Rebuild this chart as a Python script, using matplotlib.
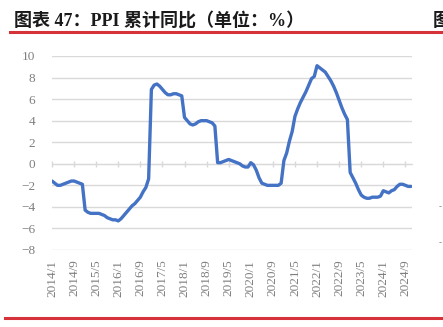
import matplotlib
matplotlib.use("Agg")
import matplotlib.pyplot as plt
from matplotlib.lines import Line2D

title = "图表 47：PPI 累计同比（单位：%）"

ppi_2014 = [-1.6, -1.8, -2.0, -2.0, -1.9, -1.8, -1.7, -1.6, -1.6, -1.7, -1.8, -1.9]
ppi_2015 = [-4.3, -4.5, -4.6, -4.6, -4.6, -4.6, -4.7, -4.8, -5.0, -5.1, -5.2, -5.2]
ppi_2016 = [-5.3, -5.1, -4.8, -4.5, -4.2, -3.9, -3.7, -3.4, -3.1, -2.6, -2.2, -1.4]
ppi_2017 = [6.9, 7.3, 7.4, 7.2, 6.9, 6.6, 6.4, 6.4, 6.5, 6.5, 6.4, 6.3]
ppi_2018 = [4.3, 4.0, 3.7, 3.6, 3.7, 3.9, 4.0, 4.0, 4.0, 3.9, 3.8, 3.5]
ppi_2019 = [0.1, 0.1, 0.2, 0.3, 0.4, 0.3, 0.2, 0.1, 0.0, -0.2, -0.3, -0.3]
ppi_2020 = [0.1, -0.1, -0.6, -1.3, -1.8, -1.9, -2.0, -2.0, -2.0, -2.0, -2.0, -1.8]
ppi_2021 = [0.3, 1.0, 2.1, 3.0, 4.4, 5.1, 5.7, 6.2, 6.7, 7.3, 7.9, 8.1]
ppi_2022 = [9.1, 8.9, 8.7, 8.5, 8.1, 7.7, 7.2, 6.6, 5.9, 5.2, 4.6, 4.1]
ppi_2023 = [-0.8, -1.3, -1.8, -2.4, -2.9, -3.1, -3.2, -3.2, -3.1, -3.1, -3.1, -3.0]
ppi_2024 = [-2.5, -2.6, -2.7, -2.5, -2.4, -2.1, -1.9, -1.9, -2.0, -2.1, -2.1]

ppi = (ppi_2014 + ppi_2015 + ppi_2016 + ppi_2017 + ppi_2018 + ppi_2019
       + ppi_2020 + ppi_2021 + ppi_2022 + ppi_2023 + ppi_2024)

tick_labels = ["2014/1", "2014/9", "2015/5", "2016/1", "2016/9", "2017/5", "2018/1",
               "2018/9", "2019/5", "2020/1", "2020/9", "2021/5", "2022/1", "2022/9",
               "2023/5", "2024/1", "2024/9"]
y_ticks = [-8, -6, -4, -2, 0, 2, 4, 6, 8, 10]

W, H = 443, 327
fig = plt.figure(figsize=(W / 100, H / 100), dpi=100)
ax = fig.add_axes([52 / W, 1 - 250 / H, (412 - 52) / W, (250 - 56) / H])

x = list(range(len(ppi)))
ax.plot(x, ppi, color="#4472C4", lw=2.4, solid_capstyle="round", solid_joinstyle="round", zorder=3)

ax.set_ylim(-8, 10)
ax.set_xlim(0, 130.4)
ax.set_yticks(y_ticks)
ax.set_yticklabels([("\u2212" + str(-v)) if v < 0 else str(v) for v in y_ticks])
ax.grid(axis="y", color="#d9d9d9", lw=1.0, zorder=0)
ax.grid(axis="x", visible=False)
for s in ax.spines.values():
    s.set_visible(False)

serif = ["Liberation Serif", "DejaVu Serif"]
ax.tick_params(axis="y", length=0, pad=12, labelcolor="#7f7f7f", labelsize=9.5)
for lab in ax.get_yticklabels():
    lab.set_family(serif)

tick_pos = list(range(0, len(tick_labels) * 8, 8))
ax.set_xticks(tick_pos)
ax.set_xticklabels(tick_labels, rotation=90, family=serif, color="#7f7f7f", fontsize=9.5)
ax.tick_params(axis="x", length=0, pad=7)

# axis line at zero with tick marks
sec = ax.secondary_xaxis(8 / 18)
sec.set_xticks(tick_pos)
sec.set_xticklabels([])
sec.tick_params(axis="x", direction="inout", length=5, color="#d9d9d9", width=1)
sec.spines["bottom"].set_color("#d9d9d9")
sec.spines["top"].set_visible(False)

# title and red rules
fig.text(14 / W, 1 - 26 / H, title, fontsize=13, fontweight="bold",
         family=["Liberation Serif", "Noto Sans CJK SC"], color="#1a1a1a", va="baseline")
fig.text(433 / W, 1 - 26 / H, "图", fontsize=13, fontweight="bold",
         family=["Noto Sans CJK SC"], color="#1a1a1a", va="baseline")
fig.add_artist(Line2D([10 / W, 1], [1 - 31.5 / H] * 2, color="#d5323a", lw=2.2))
fig.add_artist(Line2D([5 / W, 1], [1 - 318 / H] * 2, color="#d5323a", lw=2.2))
fig.text(439 / W, 1 - 207 / H, "-", fontsize=6, color="#7f7f7f", va="center")
fig.text(439 / W, 1 - 243 / H, "-", fontsize=6, color="#7f7f7f", va="center")

fig.savefig("out.png", dpi=100)
